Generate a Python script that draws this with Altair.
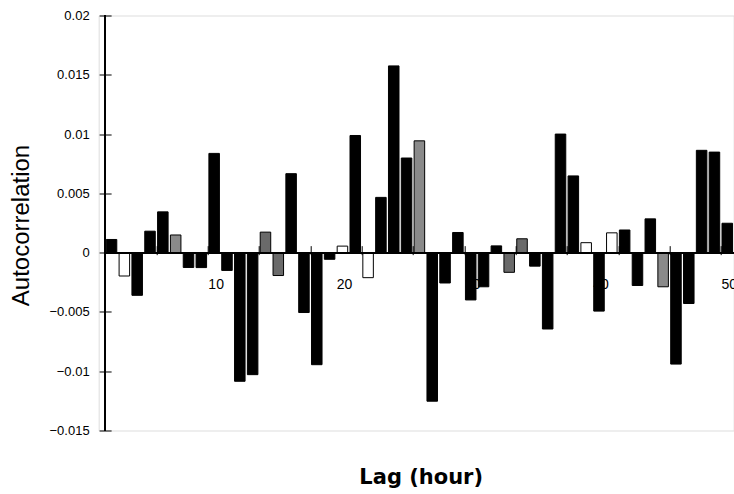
import altair as alt
import pandas as pd

# Hourly lags and their autocorrelation coefficients
lags = list(range(2, 51))
acf = [
    0.00111, -0.00197, -0.00360, 0.00181, 0.00344, 0.00149, -0.00125, -0.00126,
    0.00837, -0.00150, -0.01085, -0.01029, 0.00173, -0.00193, 0.00666, -0.00505,
    -0.00945, -0.00056, 0.00055, 0.00988, -0.00211, 0.00466, 0.01575, 0.00798,
    0.00943, -0.01253, -0.00256, 0.00170, -0.00399, -0.00288, 0.00057, -0.00166,
    0.00117, -0.00114, -0.00644, 0.01000, 0.00647, 0.00084, -0.00493, 0.00167,
    0.00191, -0.00277, 0.00285, -0.00288, -0.00940, -0.00429, 0.00863, 0.00848,
    0.00248,
]
# Fill style of each bar
fills = [
    "solid", "open", "solid", "solid", "solid", "stipple", "solid", "solid",
    "solid", "solid", "solid", "solid", "lined", "lined", "solid", "solid",
    "solid", "solid", "open", "solid", "open", "solid", "solid", "solid",
    "stipple", "solid", "solid", "solid", "solid", "solid", "solid", "lined",
    "lined", "solid", "solid", "solid", "solid", "open", "solid", "open",
    "solid", "solid", "solid", "stipple", "solid", "solid", "solid", "solid",
    "solid",
]
y_ticks = [-0.015, -0.01, -0.005, 0, 0.005, 0.01, 0.015, 0.02]
x_labels = [10, 20, 30, 40, 50]

df = pd.DataFrame({"lag": lags, "acf": acf, "fill": fills})
labels_df = pd.DataFrame({"lag": x_labels, "text": [str(v) for v in x_labels]})

W, H = 635, 415
LEFT, TOP = 98.7, 15.5
X_MIN, X_MAX = 1.0, 50.5
Y_MIN, Y_MAX = -0.015, 0.02
step = W / (X_MAX - X_MIN)
zero_px = H * Y_MAX / (Y_MAX - Y_MIN)
axis_left = (1.5 - X_MIN) * step
FONT = "Liberation Sans"

x_scale = alt.Scale(domain=[X_MIN, X_MAX], nice=False, zero=False, padding=0)
y_scale = alt.Scale(domain=[Y_MIN, Y_MAX], nice=False)

# Tick marks at every bar boundary, crossing the zero line
x_axis = alt.Axis(
    orient="bottom",
    offset=zero_px - 7 - H,
    values=[k + 0.5 for k in range(1, 51)],
    labels=False,
    tickSize=9,
    tickColor="black",
    tickWidth=1,
    domain=False,
    grid=False,
    title="Lag  (hour)",
    titleFont="DejaVu Sans",
    titleFontSize=21,
    titleFontWeight="bold",
    titleColor="black",
    titleX=322,
    titleY=H - (zero_px - 7) + 47,
    titleAlign="center",
    titleBaseline="middle",
)

y_axis = alt.Axis(
    orient="left",
    offset=-(axis_left + 6),
    values=y_ticks,
    labelExpr="format(datum.value, '')",
    labelFont=FONT,
    labelFontSize=13,
    labelColor="black",
    labelPadding=10,
    tickSize=12,
    tickColor="black",
    tickWidth=1,
    domain=False,
    grid=False,
    title="Autocorrelation",
    titleFont=FONT,
    titleFontSize=24,
    titleFontWeight="normal",
    titleColor="black",
    titleAngle=270,
    titleX=22 - (LEFT + axis_left + 6),
    titleY=H / 2 + 2,
    titleAlign="center",
    titleBaseline="middle",
)

# Lag numbers sit just below the zero line, underneath the bars
lag_labels = alt.Chart(labels_df).mark_text(
    font=FONT, fontSize=14, color="black", baseline="top", align="center", dx=2, dy=25
).encode(
    x=alt.X("lag:Q", scale=x_scale),
    y=alt.datum(0),
    text="text:N",
)

bars = alt.Chart(df).mark_bar(width=step * 0.82, stroke="black", strokeWidth=1).encode(
    x=alt.X("lag:Q", scale=x_scale, axis=x_axis),
    y=alt.Y("acf:Q", scale=y_scale, axis=y_axis),
    y2=alt.datum(0),
    fill=alt.Fill(
        "fill:N",
        scale=alt.Scale(
            domain=["solid", "stipple", "lined", "open"],
            range=["#000000", "#8a8a8a", "#6a6a6a", "#ffffff"],
        ),
        legend=None,
    ),
)

# Vertical value axis line and horizontal zero line
y_line = alt.Chart(df).mark_rule(color="black", strokeWidth=1.5).encode(
    x=alt.datum(1.5), y=alt.datum(Y_MIN), y2=alt.datum(Y_MAX)
)
zero_line = alt.Chart(df).mark_rule(color="black", strokeWidth=1.5).encode(
    x=alt.datum(1.5), x2=alt.datum(X_MAX), y=alt.datum(0)
)

chart = (
    alt.layer(lag_labels, bars, zero_line, y_line)
    .properties(
        width=W,
        height=H,
        autosize=alt.AutoSizeParams(type="none"),
        padding={"left": LEFT, "top": TOP, "right": 0, "bottom": 494 - TOP - H},
    )
    .configure_view(stroke=None)
    .configure(background="white")
)

chart.save("out.html", embed_options={"renderer": "svg", "actions": False})
